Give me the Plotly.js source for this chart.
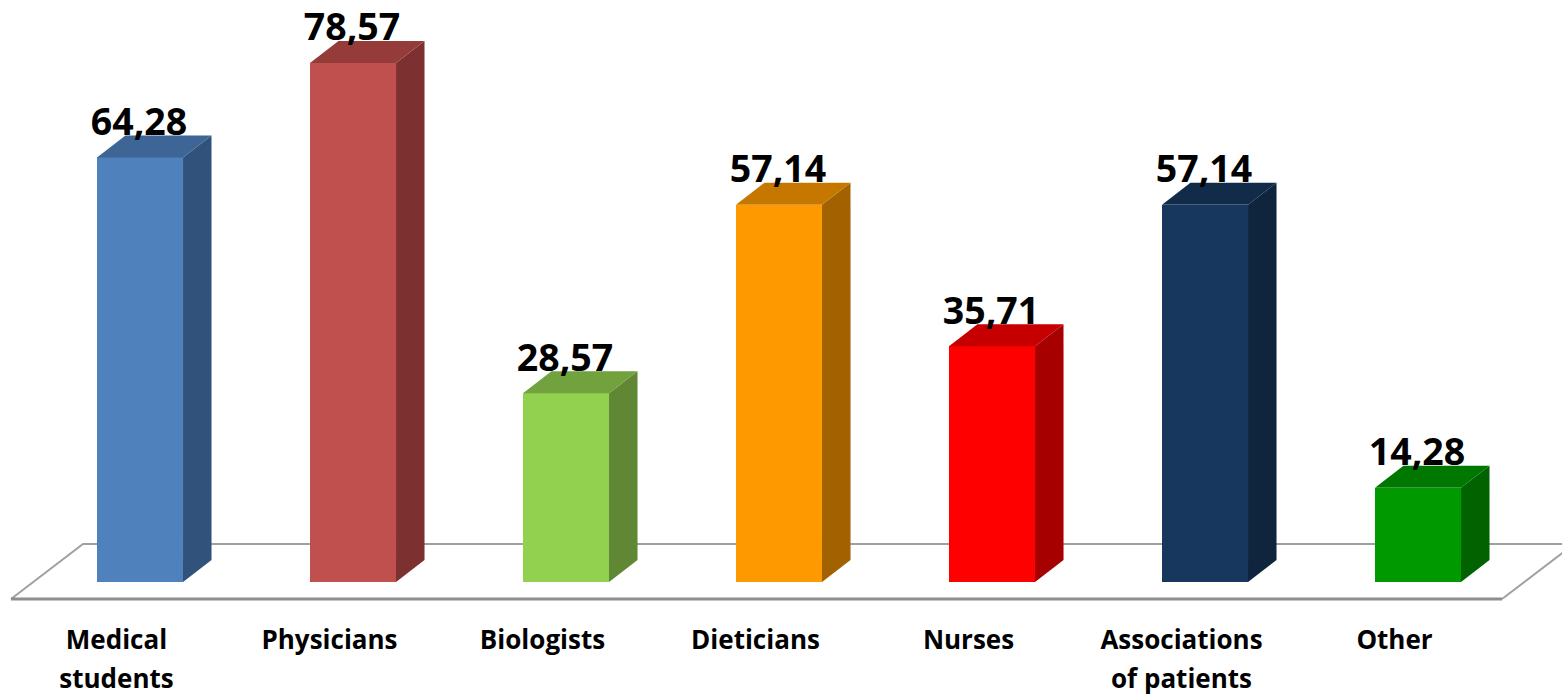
<!DOCTYPE html>
<html><head><meta charset="utf-8">
<script src="https://cdn.plot.ly/plotly-3.0.1.min.js"></script>
<style>html,body{margin:0;padding:0;background:#fff}#c{width:1562px;height:694px}</style>
</head><body><div id="c"></div>
<script>
const categories = ["Medical<br>students","Physicians","Biologists","Dieticians","Nurses","Associations<br>of patients","Other"];
const values = [64.28,78.57,28.57,57.14,35.71,57.14,14.28];
const valueLabels = ["64,28","78,57","28,57","57,14","35,71","57,14","14,28"];
const frontColors = ["#4F81BD","#C0504D","#92D050","#FF9900","#FF0000","#17375E","#009900"];
const sideColors = ["#31527B","#7C3130","#5F8734","#A36200","#A60000","#0F243D","#006300"];
const topColors = ["#3D6595","#953C3A","#71A23E","#C67700","#C60000","#122B49","#007700"];

// scale constants (one category = 213 px, one value unit = 6.61 px)
const barW = 0.404, depthX = 28.5/213, depthY = 22/6.61;
const xs = values.map((_, i) => i);
const fontFam = '"Open Sans", sans-serif';
const baseY = 582.5;

const traces = [{
  type:'bar', x:xs, y:values, width:barW,
  marker:{color:frontColors, line:{width:0}},
  hoverinfo:'x+y', showlegend:false
}];
values.forEach((v,i)=>{
  const l=i-barW/2, r=i+barW/2;
  traces.push({type:'scatter',mode:'lines',fill:'toself',fillcolor:sideColors[i],
    line:{width:0,color:sideColors[i]},hoverinfo:'skip',showlegend:false,
    x:[r,r+depthX,r+depthX,r,r],y:[0,depthY,v+depthY,v,0]});
  traces.push({type:'scatter',mode:'lines',fill:'toself',fillcolor:topColors[i],
    line:{width:0,color:topColors[i]},hoverinfo:'skip',showlegend:false,
    x:[l,r,r+depthX,l+depthX,l],y:[v,v,v+depthY,v+depthY,v]});
});
traces.push({type:'scatter',mode:'text',x:xs.map(i=>i-1/213),y:values.map(v=>v+4.85),text:valueLabels,
  textposition:'middle center',textfont:{family:fontFam,size:37.5,color:'#000',weight:700},
  hoverinfo:'skip',showlegend:false,cliponaxis:false});

const pxX = p => (p-140)/213, pxY = p => (baseY-p)/6.61;
const floorBack = `M ${pxX(11)} ${pxY(599.5)} L ${pxX(83)} ${pxY(544.5)} L ${pxX(1574)} ${pxY(544.5)} L ${pxX(1502)} ${pxY(599.5)}`;
const floorFront = `M ${pxX(11)} ${pxY(599.5)} L ${pxX(1502)} ${pxY(599.5)}`;

const tickFont = 30, labelSize = 26, tickShift = 23.5/213;
const ticktext = categories.map(c => c.split('<br>').map(s=>`<span style="font-size:${labelSize}px"><b>${s}</b></span>`).join('<br>'));

const layout = {
  width:1562,height:694,margin:{l:0,r:0,t:0,b:75.5},
  paper_bgcolor:'#fff',plot_bgcolor:'#fff',
  showlegend:false,bargap:0,
  xaxis:{range:[pxX(0),pxX(1562)],tickmode:'array',tickvals:xs.map(i=>i-tickShift),ticktext:ticktext,
    tickfont:{family:fontFam,size:tickFont,color:'#000'},showgrid:false,zeroline:false,showline:false,
    ticks:'',tickangle:0,automargin:false,fixedrange:true},
  yaxis:{range:[pxY(618.5),pxY(0)],visible:false,showgrid:false,zeroline:false,fixedrange:true},
  shapes:[
    {type:'path',path:floorBack,xref:'x',yref:'y',layer:'below',fillcolor:'rgba(0,0,0,0)',line:{color:'#a0a0a0',width:2}},
    {type:'path',path:floorFront,xref:'x',yref:'y',layer:'below',fillcolor:'rgba(0,0,0,0)',line:{color:'#8e8e8e',width:3}}
  ]
};
Plotly.newPlot('c',traces,layout,{displayModeBar:false,responsive:false});
</script></body></html>
